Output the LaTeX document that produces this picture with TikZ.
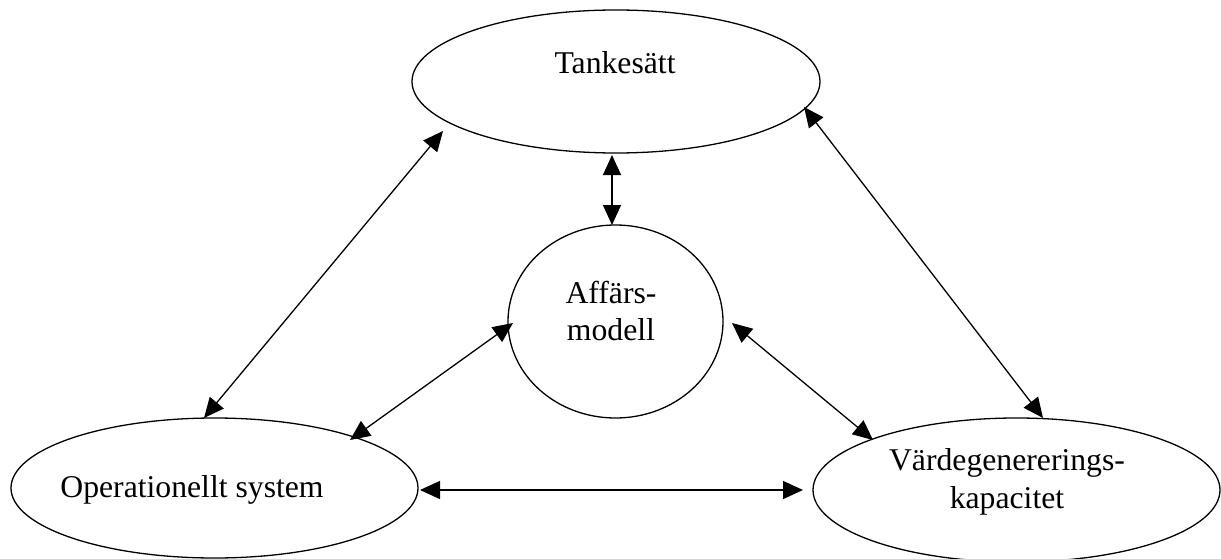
\documentclass[tikz,border=0pt]{standalone}
\usepackage{fontspec}
\setmainfont{Liberation Serif}
\usetikzlibrary{shapes.geometric,arrows.meta}
\begin{document}
\begin{tikzpicture}[x=1pt,y=-1pt,
  shapebox/.style={draw, ellipse, line width=1.3pt, inner sep=0pt},
  lbl/.style={font=\fontsize{31.7}{37.5}\selectfont, inner sep=0pt, anchor=base},
  link/.style={line width=1.3pt, {Triangle[length=20pt,width=18pt]}-{Triangle[length=20pt,width=18pt]}}]
\useasboundingbox (0,0) rectangle (1221,559);
% shapes
\node[shapebox, minimum width=408pt, minimum height=143pt] (ts) at (616,81.5) {};
\node[shapebox, minimum width=215pt, minimum height=193pt] (am) at (615.5,321.5) {};
\node[shapebox, minimum width=407pt, minimum height=140pt] (os) at (214.5,488) {};
\node[shapebox, minimum width=407pt, minimum height=144pt] (vk) at (1016.5,490) {};
% labels
\node[lbl] (tsl) at (615,73.5) {Tankesätt};
\node[lbl] (aml1) at (611,303) {Affärs-};
\node[lbl] (aml2) at (611,340) {modell};
\node[lbl] (osl) at (192,497) {Operationellt system};
\node[lbl] (vkl1) at (1007,470.5) {Värdegenererings-};
\node[lbl] (vkl2) at (1007,508) {kapacitet};
% arrow ends
\coordinate (t1) at (443,131);
\coordinate (o1) at (204,418);
\coordinate (a1) at (513,323);
\coordinate (o2) at (350,440);
\coordinate (t2) at (804,107);
\coordinate (v1) at (1043,418);
\coordinate (a2) at (732,323);
\coordinate (v2) at (873,440);
\coordinate (o3) at (420,490);
\coordinate (v3) at (803,490);
\coordinate (t3) at (612,155);
\coordinate (a3) at (612,225);
% connectors
\draw[link] (t1) -- (o1);
\draw[link] (a1) -- (o2);
\draw[link] (t2) -- (v1);
\draw[link] (a2) -- (v2);
\draw[link] (o3) -- (v3);
\draw[link] (t3) -- (a3);
\end{tikzpicture}
\end{document}
